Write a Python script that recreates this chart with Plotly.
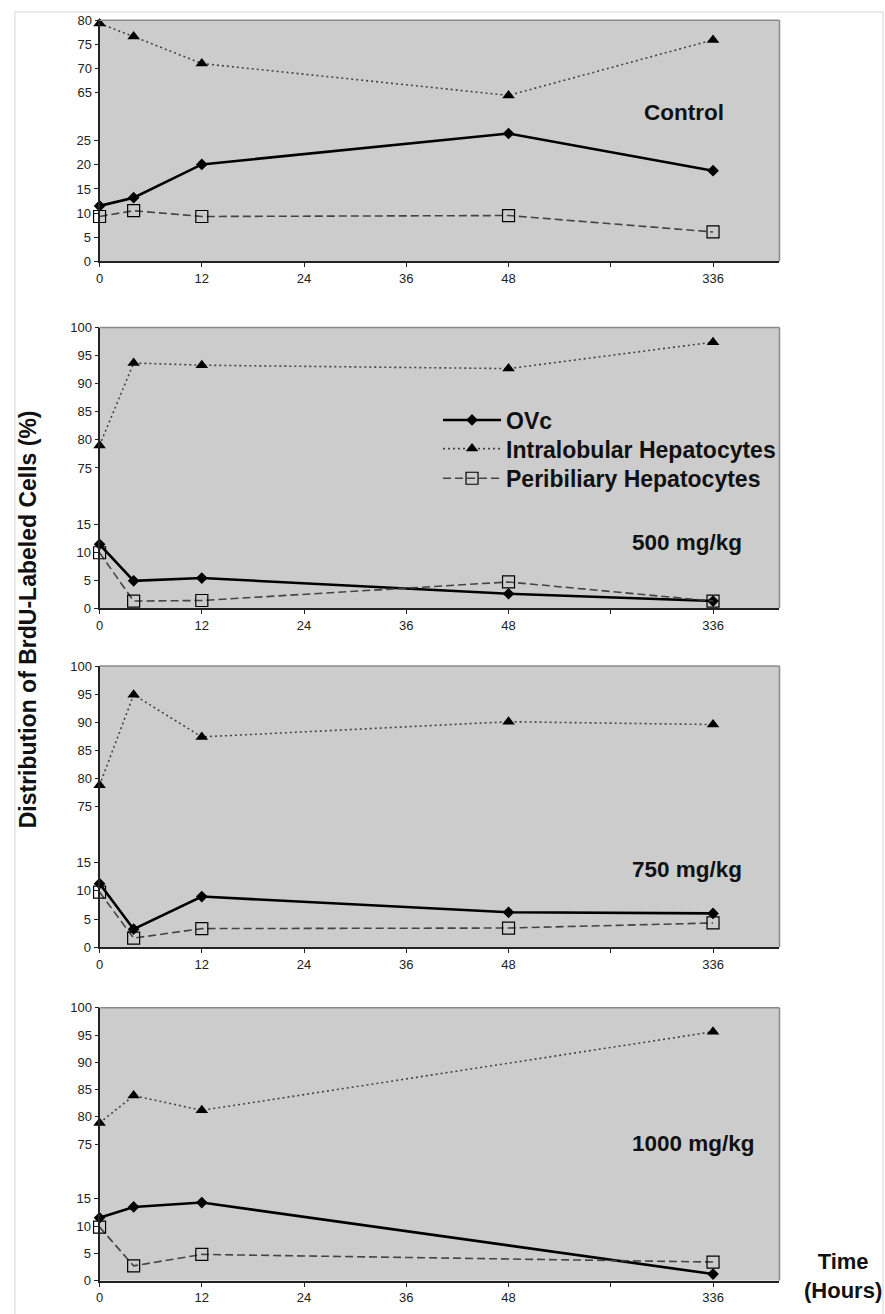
import numpy as np
import plotly.graph_objects as go

# ---------------- data ----------------
hours = [0, 4, 12, 48, 336]

ovc_control = [11.5, 13.2, 20.1, 26.5, 18.8]
intra_control = [79.3, 76.6, 71.0, 64.4, 75.9]
peri_control = [9.3, 10.5, 9.3, 9.5, 6.1]

ovc_500 = [11.4, 4.9, 5.4, 2.6, 1.3]
intra_500 = [79.0, 93.7, 93.3, 92.7, 97.4]
peri_500 = [9.9, 1.3, 1.4, 4.7, 1.3]

ovc_750 = [11.3, 3.2, 9.0, 6.2, 6.0]
intra_750 = [78.8, 94.9, 87.4, 90.1, 89.6]
peri_750 = [9.8, 1.6, 3.3, 3.4, 4.3]

ovc_1000 = [11.5, 13.5, 14.3, None, 1.2]
intra_1000 = [78.9, 83.9, 81.2, None, 95.6]
peri_1000 = [9.8, 2.7, 4.8, None, 3.4]

panel_labels = ["Control", "500 mg/kg", "750 mg/kg", "1000 mg/kg"]
series_names = ["OVc", "Intralobular Hepatocytes", "Peribiliary Hepatocytes"]

x_tick_labels = ["0", "12", "24", "36", "48", "", "336"]
lower_ticks_control = [0, 5, 10, 15, 20, 25]
upper_ticks_control = [65, 70, 75, 80]
lower_ticks_dose = [0, 5, 10, 15]
upper_ticks_dose = [75, 80, 85, 90, 95, 100]

# time axis scale: 0-48 h linear (12 h per step), then 336 h two steps later
time_knots_hours = [0, 48, 336]
time_knots_pos = [0, 4, 6]


def time_scale(h):
    return list(np.interp(h, time_knots_hours, time_knots_pos))


panels = [
    (ovc_control, intra_control, peri_control, lower_ticks_control, upper_ticks_control, [30, 80]),
    (ovc_500, intra_500, peri_500, lower_ticks_dose, upper_ticks_dose, [50, 100]),
    (ovc_750, intra_750, peri_750, lower_ticks_dose, upper_ticks_dose, [50, 100]),
    (ovc_1000, intra_1000, peri_1000, lower_ticks_dose, upper_ticks_dose, [50, 100]),
]

# ---------------- layout geometry ----------------
W, H = 885, 1314
px_left, px_right = 96, 779
panel_px = [(13.3, 257.3), (324.3, 608.3), (666.7, 951.0), (1012.3, 1288.3)]

FONT = "Liberation Sans, Arial, Helvetica, sans-serif"
BG = "#cccccc"
TICKFONT = dict(family=FONT, size=13, color="#222222")
LEGFONT = dict(family=FONT, size=23, color="#111111", weight="bold")

fig = go.Figure()
layout = dict(
    width=W, height=H, autosize=False,
    margin=dict(l=0, r=0, t=0, b=0),
    paper_bgcolor="white", plot_bgcolor=BG,
    showlegend=True,
    font=dict(family=FONT, color="#111111"),
)

shapes = []
annotations = []
xdom = [px_left / W, px_right / W]
x_positions = time_scale(hours)
legend_ids = ["legend", "legend2", "legend3"]

for i, (ovc, intra, peri, lt, ut, urange) in enumerate(panels):
    n = i + 1
    xa = "x" if n == 1 else f"x{n}"
    lo = 2 * i + 1
    up = 2 * i + 2
    ylo = "y" if lo == 1 else f"y{lo}"
    yup = f"y{up}"
    top, bot = panel_px[i]
    ydom = [1 - bot / H, 1 - top / H]

    layout["xaxis" if n == 1 else f"xaxis{n}"] = dict(
        domain=xdom, anchor=ylo, range=[0, 6.65],
        tickmode="array", tickvals=list(range(7)), ticktext=x_tick_labels,
        ticks="outside", ticklen=4, tickwidth=1, tickcolor="#222222",
        showline=True, linecolor="#222222", linewidth=2,
        showgrid=False, zeroline=False, tickfont=TICKFONT,
    )
    layout["yaxis" if lo == 1 else f"yaxis{lo}"] = dict(
        domain=ydom, anchor=xa, range=[0, 50],
        tickmode="array", tickvals=lt,
        ticks="outside", ticklen=4, tickwidth=1, tickcolor="#222222",
        showline=True, linecolor="#222222", linewidth=2,
        showgrid=False, zeroline=False, tickfont=TICKFONT,
    )
    layout[f"yaxis{up}"] = dict(
        overlaying=ylo, anchor=xa, side="left", range=urange,
        tickmode="array", tickvals=ut,
        ticks="outside", ticklen=4, tickwidth=1, tickcolor="#222222",
        showline=False, showgrid=False, zeroline=False, tickfont=TICKFONT,
    )

    first = i == 1
    fig.add_trace(go.Scatter(
        x=x_positions, y=ovc, xaxis=xa, yaxis=ylo, name=series_names[0],
        mode="lines+markers", connectgaps=True, cliponaxis=False,
        line=dict(color="#000000", width=2.6),
        marker=dict(symbol="diamond", size=9, color="#000000"),
        showlegend=first, legend=legend_ids[0],
    ))
    fig.add_trace(go.Scatter(
        x=x_positions, y=intra, xaxis=xa, yaxis=yup, name=series_names[1],
        mode="lines+markers", connectgaps=True, cliponaxis=False,
        line=dict(color="#444444", width=1.6, dash="2px,3px"),
        marker=dict(symbol="triangle-up", size=11, color="#000000"),
        showlegend=first, legend=legend_ids[1],
    ))
    fig.add_trace(go.Scatter(
        x=x_positions, y=peri, xaxis=xa, yaxis=ylo, name=series_names[2],
        mode="lines+markers", connectgaps=True, cliponaxis=False,
        line=dict(color="#444444", width=1.6, dash="8px,4px"),
        marker=dict(symbol="square-open", size=12, color="#000000", line=dict(width=1.2)),
        showlegend=first, legend=legend_ids[2],
    ))

    # panel top/right border
    shapes.append(dict(type="line", xref=f"{xa} domain", yref=f"{ylo} domain",
                       x0=0, x1=1, y0=1, y1=1, line=dict(color="#8a8a8a", width=1.5)))
    shapes.append(dict(type="line", xref=f"{xa} domain", yref=f"{ylo} domain",
                       x0=1, x1=1, y0=0, y1=1, line=dict(color="#8a8a8a", width=1.5)))

# panel labels
label_px = [(641, 106.5), (629, 541.5), (629, 872.5), (629, 1150.0)]
for (lx, ly), txt in zip(label_px, panel_labels):
    annotations.append(dict(
        text=txt, xref="paper", yref="paper", x=lx / W, y=1 - ly / H,
        xanchor="left", yanchor="middle", showarrow=False,
        font=dict(family=FONT, size=22.5, color="#111111", weight="bold"),
    ))

annotations.append(dict(
    text="Distribution of BrdU-Labeled Cells (%)", xref="paper", yref="paper",
    x=25 / W, y=1 - 619.5 / H, textangle=-90, showarrow=False,
    xanchor="center", yanchor="middle",
    font=dict(family=FONT, size=23, color="#111111", weight="bold"),
))
annotations.append(dict(
    text="Time<br>(Hours)", xref="paper", yref="paper",
    x=843 / W, y=1 - 1284 / H, showarrow=False, align="center",
    xanchor="center", yanchor="middle",
    font=dict(family=FONT, size=22, color="#111111", weight="bold"),
))

# light outer frame
shapes.append(dict(type="rect", xref="paper", yref="paper",
                   x0=11 / W, x1=883 / W, y0=-0.01, y1=1 - 5 / H,
                   line=dict(color="#d4d4d4", width=1), layer="below"))

layout["shapes"] = shapes
layout["annotations"] = annotations

# one legend per row so the row spacing matches the reference
legend_row_top_px = [396, 425, 455]
for lid, ytop in zip(legend_ids, legend_row_top_px):
    layout[lid] = dict(
        x=436 / W, y=1 - ytop / H, xanchor="left", yanchor="top",
        bgcolor="rgba(0,0,0,0)", borderwidth=0, itemwidth=58,
        font=LEGFONT,
    )

fig.update_layout(**layout)
fig.write_html(
    "out.html",
    config={"displayModeBar": False},
    post_script="document.body.style.margin='0';document.body.style.overflow='hidden';",
)
